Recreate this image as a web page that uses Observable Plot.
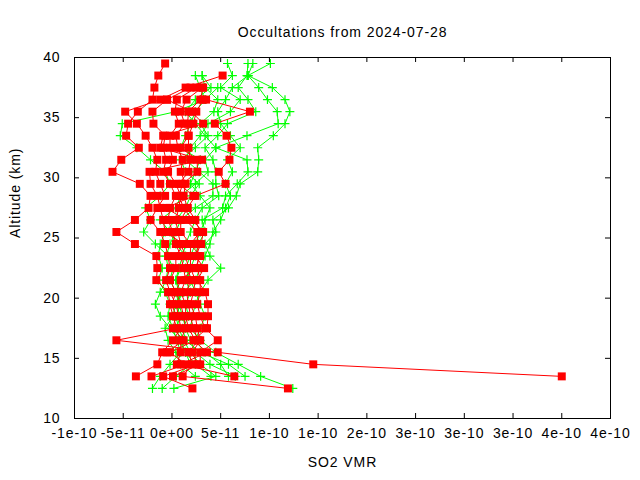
<!DOCTYPE html>
<html><head><meta charset="utf-8">
<script src="https://cdn.jsdelivr.net/npm/d3@7"></script>
<script src="https://cdn.jsdelivr.net/npm/@observablehq/plot@0.6"></script>
<style>body{margin:0;background:#fff;} #chart svg{display:block;}</style>
</head><body><div id="chart"></div>
<script>
const title = "Occultations from 2024-07-28";
const xLabel = "SO2 VMR";
const yLabel = "Altitude (km)";
// x values are in units of 1e-12 (VMR)
const xTickValues = [-100, -50, 0, 50, 100, 150, 200, 250, 300, 350, 400, 450];
const xTickLabels = ["-1e-10", "-5e-11", "0e+00", "5e-11", "1e-10", "1e-10", "2e-10", "3e-10", "3e-10", "3e-10", "4e-10", "4e-10"];
const yTickValues = [10, 15, 20, 25, 30, 35, 40];
const yTickLabels = ["10", "15", "20", "25", "30", "35", "40"];

const altitudes = [12.5, 13.5, 14.5, 15.5, 16.5, 17.5, 18.5, 19.5, 20.5, 21.5, 22.5, 23.5, 24.5, 25.5,
                   26.5, 27.5, 28.5, 29.5, 30.5, 31.5, 32.5, 33.5, 34.5, 35.5, 36.5, 37.5, 38.5, 39.5];

// red series profiles (SO2 VMR in 1e-12, bottom to top)
const red1 = [null, 400, 145, 47, -57, 5, 1, -2, -4, -16, -15, -16, -38, -57, -38, -24, -22, -33, -61, -52, -34, -47, -45, -35, -20, -18, -14, -7];
const red2 = [null, -37, -15, -10, 1, 9, 7, 4, -2, -6, -2, -4, -7, -12, -22, -15, -7, -12, -17, -15, -20, -27, -36, -48, -12, 14, 52, null];
const red3 = [null, -21, 14, -2, 24, 17, 14, 14, 9, 14, 12, 9, 4, 1, -4, -2, 4, -2, -9, -6, -9, -7, -19, -20, -5, 19, null, null];
const red4 = [119, 11, 21, 17, 27, 22, 19, 17, 15, 19, 17, 14, 9, 6, 4, 7, 9, 4, -4, 1, -2, -2, 7, 3, 5, 25, null, null];
const red5 = [21, -9, 26, 21, 29, 26, 24, 19, 22, 24, 19, 19, 19, 9, 9, 16, 12, 14, 9, 11, 6, 4, 13, 9, 15, 31, null, null];
const red6 = [null, 1, 29, 29, 47, 34, 29, 26, 29, 29, 26, 27, 26, 26, 14, -6, 22, 7, 17, 19, 17, 17, 16, 17, 29, 32, null, null];
const red7 = [null, 64, 9, 36, 22, 36, 37, 37, 34, 26, 33, 24, 30, 32, 21, 12, 7, 11, 26, 26, 9, 17, 22, 25, 32, null, null, null];
const red8 = [null, null, 5, 9, 9, 14, 12, 9, 4, 9, 24, 29, 19, 29, 24, 16, 24, 55, 48, 59, 61, 56, 44, 80, 35, null, null, null];
const red9 = [null, null, null, -5, 12, 1, 4, 0, 4, -2, 4, 4, 12, -7, -9, -12, -15, -22, -23, 31, -12, -9, 32, 20, -5, null, null, null];

// green series profiles
const green1 = [124, 91, 68, 45, 29, 19, 21, 24, 29, 37, 50, 39, 34, 45, 42, 58, 66, 70, 88, 89, 88, 104, 116, 121, 116, 103, 78, 101];
const green2 = [null, 75, 58, 29, 14, 11, 17, 14, 19, 14, 19, 24, 27, 34, 31, 52, 55, 67, 78, 77, 45, 77, 109, 108, 98, 89, 78, 83];
const green3 = [2, 45, 29, 19, 12, 7, 4, 9, 7, 4, 7, 11, 14, 19, 24, 31, 48, 45, 45, 42, 34, 47, 57, 86, 78, 68, 77, 78];
const green4 = [-10, 4, 19, 14, 7, -2, -12, -17, -12, -6, -4, -6, -2, 4, 9, 24, 42, 42, 28, 14, 19, 29, 37, 60, 70, 50, 62, 57];
const green5 = [-20, -12, -2, 9, 5, 1, -4, -2, -7, -14, -10, -14, -12, -7, 4, 14, 19, 28, 14, 9, 24, 37, 29, 43, 47, 34, 31, null];
const green6 = [null, 65, 39, 24, 19, 14, 11, 7, 4, -2, 1, -4, -17, -29, -22, -27, -12, -2, -7, -22, -36, -53, -51, 4, 34, 29, 24, null];
const green7 = [null, 58, 50, 34, 24, 29, 34, 29, 24, 19, 14, 19, 24, 29, 34, 39, 29, 19, 24, 29, 9, 14, 19, 24, 34, 47, null, null];
const green8 = [null, 40, 24, 14, 9, 4, 9, 4, 12, 24, 29, 34, 39, 42, 50, 55, 60, 55, 62, 57, 70, 60, 50, 47, 55, 62, 78, null];
const green9 = [null, 24, 9, 4, -4, -7, 1, 4, 9, 4, 9, 14, 4, -2, -12, 4, 9, 24, 37, 34, 45, 34, 24, 14, 24, 40, 31, null];

const redProfiles = [red1, red2, red3, red4, red5, red6, red7, red8, red9];
const greenProfiles = [green1, green2, green3, green4, green5, green6, green7, green8, green9];

function toRows(profiles, prefix) {
  const out = [];
  profiles.forEach((p, k) => {
    p.forEach((v, i) => {
      if (v !== null) out.push({id: prefix + k, alt: altitudes[i], v});
    });
  });
  return out;
}
const redRows = toRows(redProfiles, "r");
const greenRows = toRows(greenProfiles, "g");
const xTicks = xTickValues.map((v, i) => ({v, label: xTickLabels[i]}));
const yTicks = yTickValues.map((v, i) => ({v, label: yTickLabels[i]}));

const W = 640, H = 480, mL = 74, mR = 30, mT = 57, mB = 62;
const fw = W - mL - mR, fh = H - mT - mB;
const tickLen = 5;

const chart = Plot.plot({
  width: W, height: H,
  marginLeft: mL, marginRight: mR, marginTop: mT, marginBottom: mB,
  x: {domain: [xTickValues[0], xTickValues[xTickValues.length - 1]], axis: null},
  y: {domain: [yTickValues[0], yTickValues[yTickValues.length - 1]], axis: null},
  style: "font-family: 'Liberation Sans', Arial, sans-serif; font-size: 14px; letter-spacing: 0.9px; background: #fff; color: #000;",
  marks: [
    Plot.line(greenRows, {x: "v", y: "alt", z: "id", stroke: "#00ff00", strokeWidth: 1}),
    Plot.dot(greenRows, {x: "v", y: "alt", symbol: "plus", r: 3, stroke: "#00ff00", strokeWidth: 1.2}),
    Plot.line(redRows, {x: "v", y: "alt", z: "id", stroke: "#ff0000", strokeWidth: 1}),
    Plot.dot(redRows, {x: "v", y: "alt", symbol: "square", r: 4.5, fill: "#ff0000"}),
    Plot.frame({stroke: "#000", strokeWidth: 1}),
    Plot.tickX(xTicks, {x: "v", insetTop: fh - tickLen, stroke: "#000"}),
    Plot.tickX(xTicks, {x: "v", insetBottom: fh - tickLen, stroke: "#000"}),
    Plot.tickY(yTicks, {y: "v", insetRight: fw - tickLen, stroke: "#000"}),
    Plot.tickY(yTicks, {y: "v", insetLeft: fw - tickLen, stroke: "#000"}),
    Plot.text(xTicks, {x: "v", text: "label", frameAnchor: "bottom", dy: 19, fill: "#000"}),
    Plot.text(yTicks, {y: "v", text: "label", frameAnchor: "left", dx: -14, textAnchor: "end", fill: "#000"}),
    Plot.text([title], {text: d => d, frameAnchor: "top", dy: -30, fill: "#000"}),
    Plot.text([xLabel], {text: d => d, frameAnchor: "bottom", dy: 48, fill: "#000"}),
    Plot.text([yLabel], {text: d => d, frameAnchor: "left", dx: -59, rotate: -90, fill: "#000"})
  ]
});
document.getElementById("chart").appendChild(chart);
</script>
</body></html>
